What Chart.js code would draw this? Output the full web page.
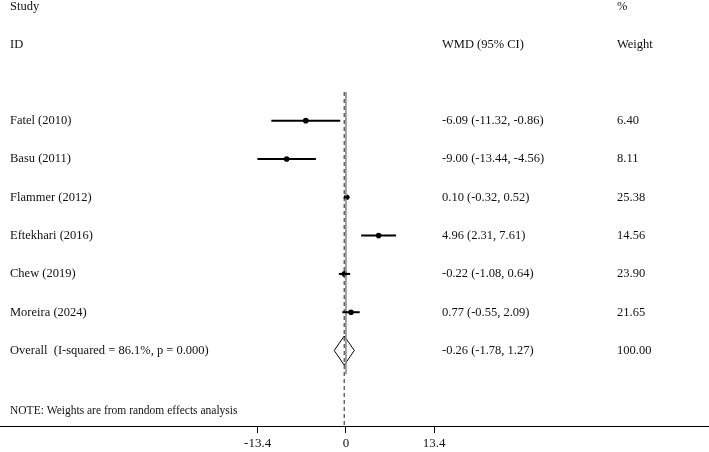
<!DOCTYPE html>
<html><head><meta charset="utf-8">
<script src="https://cdn.jsdelivr.net/npm/chart.js@4.4.0/dist/chart.umd.min.js"></script>
<style>html,body{margin:0;padding:0;background:#fff;}#wrap{width:709px;height:452px;}</style>
</head><body><div id="wrap"><canvas id="c" width="709" height="452"></canvas></div>
<script>
const studies = ["Fatel (2010)", "Basu (2011)", "Flammer (2012)", "Eftekhari (2016)", "Chew (2019)", "Moreira (2024)"];
const estimates = [-6.09, -9.00, 0.10, 4.96, -0.22, 0.77];
const lowerCI = [-11.32, -13.44, -0.32, 2.31, -1.08, -0.55];
const upperCI = [-0.86, -4.56, 0.52, 7.61, 0.64, 2.09];
const weights = ["6.40", "8.11", "25.38", "14.56", "23.90", "21.65"];
const overallLabel = "Overall  (I-squared = 86.1%, p = 0.000)";
const overallEstimate = -0.26;
const overallLower = -1.78;
const overallUpper = 1.27;
const overallWeight = "100.00";
const xTicks = [-13.4, 0, 13.4];
const noteText = "NOTE: Weights are from random effects analysis";

const FONT = '"Liberation Serif", "Times New Roman", serif';
const overallRow = studies.length;
const lineTop = -0.75;
const solidBottom = 6.62;
const yMin = -3.15, yMax = 7.97;

const datasets = [];
studies.forEach((s, i) => {
  datasets.push({type: 'line', data: [{x: lowerCI[i], y: i}, {x: upperCI[i], y: i}],
    borderColor: '#000', borderWidth: 2, pointRadius: 0, fill: false});
});
datasets.push({type: 'line', data: [{x: 0, y: lineTop}, {x: 0, y: solidBottom}],
  borderColor: '#8c8c8c', borderWidth: 1.6, pointRadius: 0, fill: false});
datasets.push({type: 'line', data: [{x: overallEstimate, y: lineTop}, {x: overallEstimate, y: yMax}],
  borderColor: '#444', borderWidth: 1.2, borderDash: [4, 3], pointRadius: 0, fill: false});
datasets.push({type: 'scatter', data: estimates.map((e, i) => ({x: e, y: i})),
  pointRadius: 2.8, backgroundColor: '#000', borderColor: '#000', borderWidth: 0});
const dh = 0.38;
datasets.push({type: 'line', data: [
  {x: overallLower, y: overallRow}, {x: overallEstimate, y: overallRow - dh},
  {x: overallUpper, y: overallRow}, {x: overallEstimate, y: overallRow + dh},
  {x: overallLower, y: overallRow}],
  borderColor: '#000', borderWidth: 1, pointRadius: 0, fill: false, tension: 0});

const fmt = v => v.toFixed(2);
const textPlugin = {
  id: 'forestText',
  afterDraw(chart) {
    const ctx = chart.ctx;
    const ys = chart.scales.y;
    ctx.save();
    ctx.fillStyle = '#111';
    ctx.font = '12.5px ' + FONT;
    ctx.textBaseline = 'middle';
    ctx.textAlign = 'left';
    const c1 = 10, c2 = 442, c3 = 617;
    ctx.fillText('Study', c1, 7);
    ctx.fillText('ID', c1, 45);
    ctx.fillText('WMD (95% CI)', c2, 45);
    ctx.fillText('%', c3, 7);
    ctx.fillText('Weight', c3, 45);
    studies.forEach((s, i) => {
      const y = ys.getPixelForValue(i);
      ctx.fillText(s, c1, y);
      ctx.fillText(`${fmt(estimates[i])} (${fmt(lowerCI[i])}, ${fmt(upperCI[i])})`, c2, y);
      ctx.fillText(weights[i], c3, y);
    });
    const yo = ys.getPixelForValue(overallRow);
    ctx.fillText(overallLabel, c1, yo);
    ctx.fillText(`${fmt(overallEstimate)} (${fmt(overallLower)}, ${fmt(overallUpper)})`, c2, yo);
    ctx.fillText(overallWeight, c3, yo);
    ctx.font = '11.5px ' + FONT;
    ctx.fillText(noteText, c1, 411);
    ctx.restore();
  }
};

new Chart(document.getElementById('c'), {
  type: 'scatter',
  data: {datasets},
  options: {
    responsive: false, animation: false, events: [],
    layout: {padding: 0, autoPadding: false},
    plugins: {legend: {display: false}, tooltip: {enabled: false}},
    scales: {
      x: {type: 'linear', min: -52.5, max: 55.1, position: 'bottom',
        afterBuildTicks: s => { s.ticks = xTicks.map(v => ({value: v})); },
        afterFit: s => { s.height = 26; },
        ticks: {autoSkip: false, maxRotation: 0, padding: 3, color: '#111',
          font: {family: FONT, size: 13}, callback: v => String(v)},
        grid: {display: true, drawOnChartArea: false, drawTicks: true, tickLength: 7, color: '#000', lineWidth: 1},
        border: {display: true, color: '#000', width: 1}
      },
      y: {type: 'linear', reverse: true, min: yMin, max: yMax, display: false}
    }
  },
  plugins: [textPlugin]
});
</script></body></html>
